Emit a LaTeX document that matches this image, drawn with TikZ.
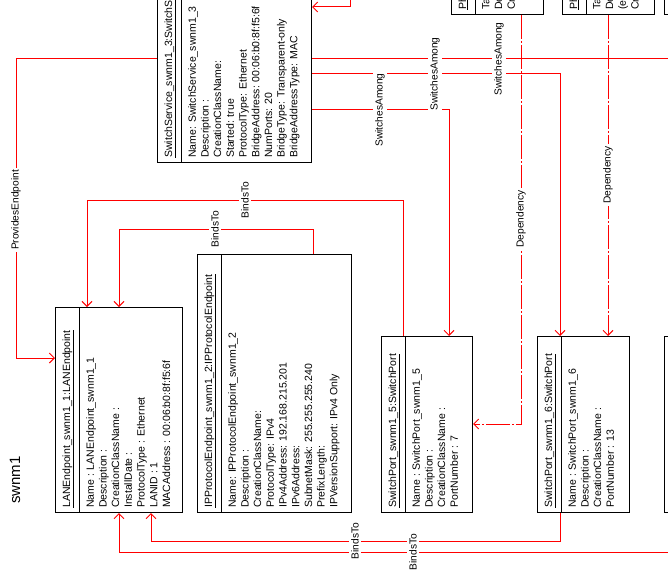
\documentclass[tikz,border=0pt]{standalone}
\usepackage{fontspec}
\setmainfont{Liberation Sans}
\usetikzlibrary{arrows.meta}

\newcommand{\umlobj}[6]{%
  \node[objbox,minimum width=#3pt,minimum height=#4pt] (#1) at #2 {};
  \draw[objline] ([xshift=24pt]#1.north west) -- ([xshift=24pt]#1.south west);
  \node[objhead] (#1head) at ([xshift=15pt,yshift=5pt]#1.south west) {\underline{#5}};
  \node[objattr] (#1attr) at ([xshift=31pt,yshift=5pt]#1.south west) {#6};
}

\begin{document}
\begin{tikzpicture}[x=1pt,y=-1pt]
  \tikzstyle{every node}=[font=\fontsize{10.5pt}{12.7pt}\selectfont]
  \tikzstyle{objline}=[line width=1pt]
  \tikzstyle{objbox}=[draw,objline,anchor=north west,inner sep=0]
  \tikzstyle{objhead}=[rotate=90,anchor=base west,inner sep=0]
  \tikzstyle{objattr}=[rotate=90,anchor=north west,align=left,inner sep=0]
  \tikzstyle{rel}=[red,line width=1pt]
  \tikzstyle{dep}=[rel,dash pattern=on 24pt off 2pt on 2pt off 2pt]
  \tikzstyle{barb}=[-{Straight Barb[length=5pt,width=10pt]}]
  \tikzstyle{rellabel}=[rotate=90,fill=white,inner sep=2pt,font=\fontsize{10.2pt}{12pt}\selectfont]

  \useasboundingbox (0,0) rectangle (668,572);
  \clip (0,0) rectangle (668,572);

  \umlobj{switchsvc}{(157,-40)}{154}{202}{SwitchService\_swnm1\_3:SwitchService}{%
	Name: SwitchService\_swnm1\_3\\
	Description :\\
	CreationClassName:\\
	Started: true\\
	ProtocolType: Ethernet\\
	BridgeAddress: 00:06:b0:8f:f5:6f\\
	NumPorts: 20\\
	BridgeType: Transparent-only\\
	BridgeAddressType: MAC}

  \umlobj{conn1}{(451,-100)}{92}{114}{Ph}{Ta\\De\\Cr}

  \umlobj{conn2}{(562,-100)}{92}{114}{Ph}{Ta\\De\\(e\\Cr}

  \node[objbox,minimum width=60pt,minimum height=114pt] (conn3) at (664,-100) {};

  \umlobj{lanep}{(55,307)}{127}{205}{LANEndpoint\_swnm1\_1:LANEndpoint}{%
	Name : LANEndpoint\_swnm1\_1\\
	Description :\\
	CreationClassName :\\
	InstallDate :\\
	ProtocolType : Ethernet\\
	LANID : 1\\
	MACAddress : 00:06:b0:8f:f5:6f}

  \umlobj{ipep}{(197,254)}{154}{258}{IPProtocolEndpoint\_swnm1\_2:IPProtocolEndpoint}{%
	Name: IPProtocolEndpoint\_swnm1\_2\\
	Description :\\
	CreationClassName:\\
	ProtocolType: IPv4\\
	IPv4Address: 192.168.215.201\\
	IPv6Address:\\
	SubnetMask: 255.255.255.240\\
	PrefixLength:\\
	IPVersionSupport: IPv4 Only}

  \umlobj{port5}{(381,336)}{91}{176}{SwitchPort\_swnm1\_5:SwitchPort}{%
	Name : SwitchPort\_swnm1\_5\\
	Description :\\
	CreationClassName :\\
	PortNumber : 7}

  \umlobj{port6}{(537,336)}{92}{176}{SwitchPort\_swnm1\_6:SwitchPort}{%
	Name : SwitchPort\_swnm1\_6\\
	Description :\\
	CreationClassName :\\
	PortNumber : 13}

  \node[objbox,minimum width=60pt,minimum height=176pt] (port7) at (664,336) {};

  \node[rotate=90,font=\fontsize{15pt}{18pt}\selectfont] (host) at (15,480) {swnm1};

  \coordinate (offtop) at (350,-10);
  \coordinate (offright) at (680,59);
  \coordinate (offright2) at (680,552);

   \draw[rel,barb] (switchsvc.west |- 0,59) -| (16,358) -- (lanep.west |- 0,358);
   \draw[rel,barb] (offtop) |- (switchsvc.east |- 0,7);
   \draw[rel] (switchsvc.east |- 0,59) -- (offright);
   \draw[rel,barb] (switchsvc.east |- 0,74) -| ([xshift=23pt]port6.north west);
   \draw[rel,barb] (switchsvc.east |- 0,110) -| ([xshift=68pt]port5.north west);
   \draw[dep,barb] ([xshift=70pt]conn1.south west) |- (port5.east |- 0,424);
   \draw[dep,barb] ([xshift=46pt]conn2.south west) -- ([xshift=71pt]port6.north west);
   \draw[rel,barb] ([xshift=22pt]port5.north west) |- (87,200) -- ([xshift=32pt]lanep.north west);
   \draw[rel,barb] ([xshift=116pt]ipep.north west) |- (119,229) -- ([xshift=64pt]lanep.north west);
   \draw[rel,barb] ([xshift=23pt]port6.south west) |- (151,541) -- ([xshift=96pt]lanep.south west);
   \draw[rel,barb] (offright2) -| ([xshift=64pt]lanep.south west);

   \node[rellabel] (lblprov) at (16,210) {ProvidesEndpoint};
   \node[rellabel] (lblsw1) at (499,59) {SwitchesAmong};
   \node[rellabel] (lblsw2) at (435,74) {SwitchesAmong};
   \node[rellabel] (lblsw3) at (380,110) {SwitchesAmong};
   \node[rellabel] (lbldep1) at (521,219) {Dependency};
   \node[rellabel] (lbldep2) at (608,175) {Dependency};
   \node[rellabel] (lblbind1) at (245,200) {BindsTo};
   \node[rellabel] (lblbind2) at (215,229) {BindsTo};
   \node[rellabel] (lblbind3) at (355,541) {BindsTo};
   \node[rellabel] (lblbind4) at (413,552) {BindsTo};

\end{tikzpicture}
\end{document}
